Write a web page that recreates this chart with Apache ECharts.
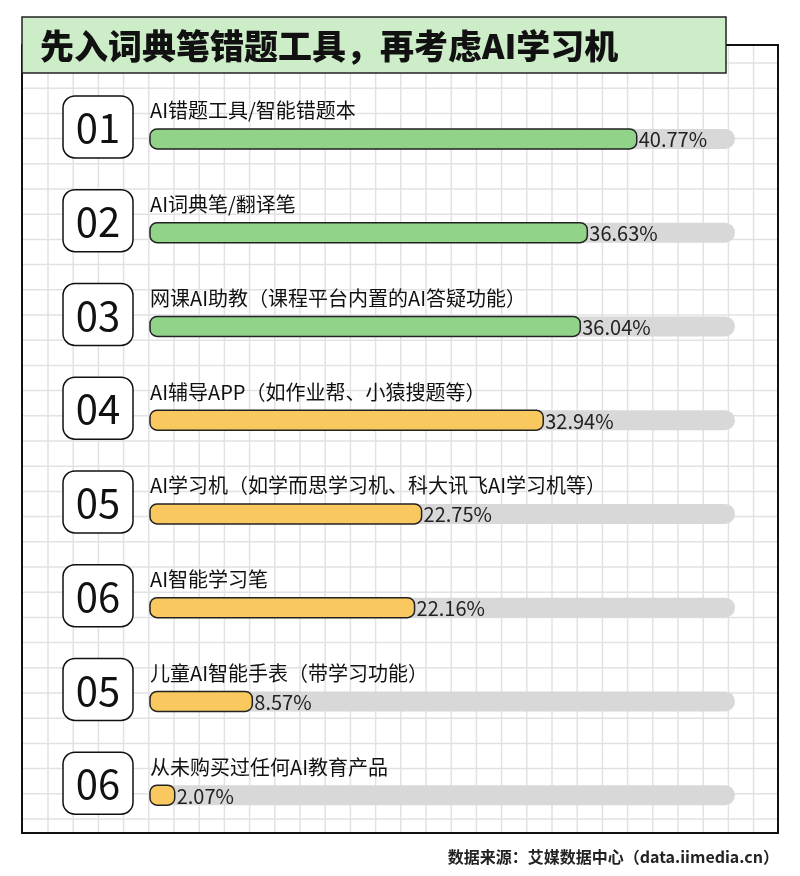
<!DOCTYPE html>
<html><head><meta charset="utf-8">
<script src="https://cdn.jsdelivr.net/npm/echarts@6/dist/echarts.min.js"></script>
<style>html,body{margin:0;padding:0;background:#fff}#c{width:800px;height:876px}</style>
</head><body><div id="c"></div>
<script>
const categories = ['AI错题工具/智能错题本','AI词典笔/翻译笔','网课AI助教（课程平台内置的AI答疑功能）','AI辅导APP（如作业帮、小猿搜题等）','AI学习机（如学而思学习机、科大讯飞AI学习机等）','AI智能学习笔','儿童AI智能手表（带学习功能）','从未购买过任何AI教育产品'];
const numbers = ['01','02','03','04','05','06','05','06'];
const values = [40.77,36.63,36.04,32.94,22.75,22.16,8.57,2.07];
const trackMax = 49;
const title = '先入词典笔错题工具，再考虑AI学习机';
const source = '数据来源：艾媒数据中心（data.iimedia.cn）';
const FONT = '"Noto Sans CJK SC", sans-serif';

const chart = echarts.init(document.getElementById('c'));
const gfx = [];
for (let x = 48; x < 778; x += 25.2) gfx.push({type:'line',shape:{x1:x,y1:45,x2:x,y2:833},style:{stroke:'#e2e2e2',lineWidth:1.5},z:-10});
for (let y = 819; y > 45; y -= 25.2) gfx.push({type:'line',shape:{x1:22,y1:y,x2:778,y2:y},style:{stroke:'#e2e2e2',lineWidth:1.5},z:-10});
gfx.push({type:'rect',shape:{x:22,y:45,width:756,height:788},style:{fill:'none',stroke:'#111',lineWidth:2},z:-5});
gfx.push({type:'rect',shape:{x:22,y:17,width:704,height:56},style:{fill:'#cdedc9',stroke:'#222',lineWidth:1.5},z:5});
gfx.push({type:'text',x:40,y:46,style:{text:title,font:'900 34px '+FONT,fill:'#111',textVerticalAlign:'middle'},z:6});
gfx.push({type:'text',x:779,y:857,style:{text:source,font:'bold 16px '+FONT,fill:'#222',textAlign:'right',textVerticalAlign:'middle'},z:6});

const data = values.map((v,i)=>[v,i]);
chart.setOption({
  animation:false,
  grid:{left:150,right:65,top:92,bottom:34},
  xAxis:{type:'value',min:0,max:trackMax,show:false},
  yAxis:{type:'category',data:categories,inverse:true,show:false},
  graphic:gfx,
  series:[{
    type:'custom',
    data:data,
    encode:{x:0,y:1},
    renderItem:function(params,api){
      const v=api.value(0), i=api.value(1);
      const p0=api.coord([0,i]), p1=api.coord([v,i]), pm=api.coord([trackMax,i]);
      const h=20, y=p0[1]-h/2;
      const col = i<3 ? '#92d38a' : '#f9c85f';
      return {type:'group',children:[
        {type:'rect',shape:{x:p0[0],y:y,width:pm[0]-p0[0],height:h,r:10},style:{fill:'#d8d8d8'}},
        {type:'rect',shape:{x:p0[0],y:y,width:p1[0]-p0[0],height:h,r:7},style:{fill:col,stroke:'#222',lineWidth:1.5}},
        {type:'text',x:p0[0],y:p0[1]-28,style:{text:categories[i],font:'20px '+FONT,fill:'#111',textVerticalAlign:'middle'}},
        {type:'text',x:p1[0]+2,y:p0[1]+1,style:{text:v.toFixed(2)+'%',font:'20px '+FONT,fill:'#222',textVerticalAlign:'middle'}},
        {type:'rect',shape:{x:63,y:p0[1]-43,width:70,height:62,r:12},style:{fill:'#fff',stroke:'#111',lineWidth:1.5}},
        {type:'text',x:98,y:p0[1]-11,style:{text:numbers[i],font:'40px '+FONT,fill:'#111',textAlign:'center',textVerticalAlign:'middle'}}
      ]};
    }
  }]
});
</script></body></html>
